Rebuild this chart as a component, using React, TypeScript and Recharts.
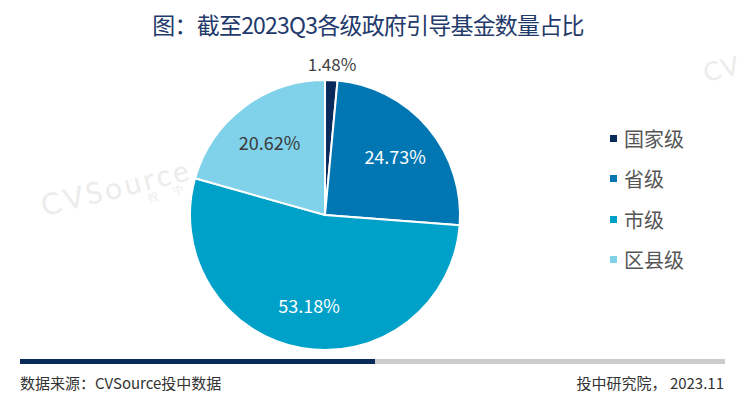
import React from "react";
import { PieChart, Pie, Cell, Legend } from "recharts";

const categories = ["国家级", "省级", "市级", "区县级"];
const shares = [1.48, 24.73, 53.18, 20.62];
const colors = ["#0b2a5c", "#0077b3", "#00a1c9", "#80d1ea"];
const labelColors = ["#444444", "#ffffff", "#ffffff", "#3a3a3a"];

const data = categories.map((name, i) => ({ name, value: shares[i] }));

const FONT = '"Noto Sans CJK SC", "Noto Sans", sans-serif';
const RAD = Math.PI / 180;

const renderLabel = (props: any) => {
  const { cx, cy, midAngle, outerRadius, value, index } = props;
  const r = index === 0 ? outerRadius + 17 : outerRadius * 0.68;
  const x = cx + r * Math.cos(-midAngle * RAD);
  const y = cy + r * Math.sin(-midAngle * RAD);
  return (
    <text
      x={x}
      y={y}
      fill={labelColors[index]}
      textAnchor="middle"
      dominantBaseline="central"
      fontSize={index === 0 ? 17 : 18}
      fontFamily={FONT}
    >
      {value.toFixed(2)}%
    </text>
  );
};

const renderLegend = () => (
  <div style={{ fontFamily: FONT }}>
    {data.map((d, i) => (
      <div
        key={d.name}
        style={{ display: "flex", alignItems: "center", height: 40.5 }}
      >
        <span
          style={{
            display: "inline-block",
            width: 7,
            height: 7,
            background: colors[i],
            marginRight: 7,
          }}
        />
        <span style={{ fontSize: 20, color: "#555555" }}>{d.name}</span>
      </div>
    ))}
  </div>
);

export default function App() {
  return (
    <div
      style={{
        position: "absolute",
        left: 0,
        top: 0,
        width: 744,
        height: 398,
        background: "#ffffff",
        overflow: "hidden",
        fontFamily: FONT,
      }}
    >
      <div
        style={{
          position: "absolute",
          left: 0,
          top: 7,
          width: 736,
          textAlign: "center",
          fontSize: 23,
          color: "#1f3a6b",
          fontWeight: 400,
          letterSpacing: -0.8,
        }}
      >
        图：截至2023Q3各级政府引导基金数量占比
      </div>
      <div
        style={{
          position: "absolute",
          left: 40,
          top: 168,
          fontSize: 30,
          color: "#ececec",
          transform: "rotate(-14deg)",
          fontFamily: "Lato, sans-serif",
          letterSpacing: 3,
        }}
      >
        CVSource
        <div style={{ fontSize: 11, letterSpacing: 6, marginLeft: 105, marginTop: -6 }}>投 中</div>
      </div>
      <div
        style={{
          position: "absolute",
          left: 703,
          top: 52,
          fontSize: 26,
          color: "#ececec",
          transform: "rotate(-14deg)",
          fontFamily: "Lato, sans-serif",
          letterSpacing: 1,
        }}
      >
        CV
      </div>
      <div style={{ position: "absolute", left: 0, top: 0 }}>
        <PieChart width={744} height={398} margin={{ top: 0, right: 0, bottom: 0, left: 0 }}>
          <Pie
            data={data}
            dataKey="value"
            nameKey="name"
            cx={325}
            cy={215}
            outerRadius={135}
            startAngle={90}
            endAngle={-270}
            stroke="#ffffff"
            strokeWidth={2}
            label={renderLabel}
            labelLine={false}
            isAnimationActive={false}
          >
            {data.map((d, i) => (
              <Cell key={d.name} fill={colors[i]} />
            ))}
          </Pie>
          <Legend
            content={renderLegend}
            layout="vertical"
            wrapperStyle={{ position: "absolute", left: 610, top: 118, width: 120 }}
          />
        </PieChart>
      </div>
      <div
        style={{
          position: "absolute",
          left: 20,
          top: 359,
          width: 355,
          height: 5,
          background: "#0b2a5c",
        }}
      />
      <div
        style={{
          position: "absolute",
          left: 375,
          top: 359,
          width: 350,
          height: 5,
          background: "#cccccc",
        }}
      />
      <div
        style={{
          position: "absolute",
          left: 20,
          top: 372,
          fontSize: 15,
          color: "#333333",
        }}
      >
        数据来源：CVSource投中数据
      </div>
      <div
        style={{
          position: "absolute",
          right: 20,
          top: 372,
          fontSize: 15,
          color: "#333333",
        }}
      >
        投中研究院， 2023.11
      </div>
    </div>
  );
}
